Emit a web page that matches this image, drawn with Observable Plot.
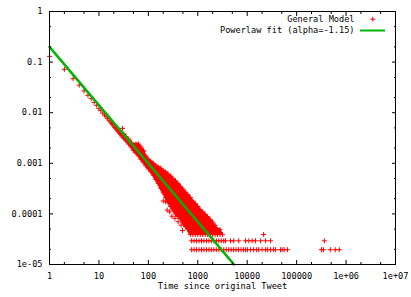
<!DOCTYPE html>
<html><head><meta charset="utf-8">
<script src="https://cdn.jsdelivr.net/npm/d3@7"></script>
<script src="https://cdn.jsdelivr.net/npm/@observablehq/plot@0.6"></script>
<style>
html,body{margin:0;padding:0;background:#fff;}
</style></head><body><div id="chart"></div>
<script>
// ---- data ----
const seriesNames = ["General Model", "Powerlaw fit (alpha=-1.15)"];
const xLabel = "Time since original Tweet";

// single points at small times
const lowX = [1,2,3,4,5,6,7,8,9,10,11,12,13,14,15,16,17,18,19,20,21,22,23,24,25,26,27,28,29,30,31];
const lowY = [0.13,0.072,0.047,0.035,0.027,0.022,0.019,0.016,0.014,0.012,0.011,0.0098,0.0090,0.0083,0.0077,0.0071,0.0066,0.0062,0.0058,0.0055,0.0051,0.0049,0.0046,0.0044,0.0042,0.0040,0.0038,0.0037,0.0035,0.0049,0.0033];

// dense cloud: [time, [values...]]
const cloudCols = [
  [32, [0.0031, 0.0035, 0.0038]],
  [35, [0.0028, 0.0031, 0.0034]],
  [40, [0.0024, 0.0027, 0.0030]],
  [45, [0.0021, 0.0024, 0.0026]],
  [50, [0.0018, 0.0021, 0.0023]],
  [56, [0.0016, 0.0018, 0.0021, 0.0024]],
  [63, [0.0014, 0.0016, 0.0019, 0.0022, 0.0024]],
  [71, [0.0012, 0.0014, 0.0016, 0.0019, 0.0021]],
  [79, [0.00105, 0.0012, 0.0014, 0.0017, 0.0018]],
  [89, [0.00090, 0.00104, 0.0012, 0.0014]],
  [100, [0.00078, 0.00090, 0.00104, 0.0012]],
  [112, [0.00068, 0.00078, 0.00090, 0.00104, 0.0011]],
  [126, [0.00058, 0.00068, 0.00078, 0.00090, 0.0010]],
  [141, [0.00048, 0.00057, 0.00066, 0.00077, 0.00091]],
  [158, [0.00040, 0.00048, 0.00056, 0.00066, 0.00077, 0.00085]],
  [178, [0.00032, 0.00038, 0.00045, 0.00053, 0.00063, 0.00073, 0.00080]],
  [200, [0.00026, 0.00032, 0.00038, 0.00045, 0.00053, 0.00063, 0.00072]],
  [224, [0.00021, 0.00026, 0.00032, 0.00038, 0.00045, 0.00053, 0.00062, 0.00068]],
  [251, [0.00017, 0.00021, 0.00026, 0.00031, 0.00037, 0.00044, 0.00052, 0.00061]],
  [282, [0.00014, 0.00017, 0.00021, 0.00026, 0.00031, 0.00037, 0.00044, 0.00052, 0.00056]],
  [316, [0.00012, 0.00014, 0.00017, 0.00021, 0.00026, 0.00031, 0.00037, 0.00044, 0.00050]],
  [355, [0.00010, 0.00012, 0.00015, 0.00018, 0.00022, 0.00027, 0.00032, 0.00039, 0.00045]],
  [398, [0.000089, 0.00011, 0.00013, 0.00016, 0.00019, 0.00023, 0.00028, 0.00034, 0.00040]],
  [447, [0.000079, 0.000095, 0.00012, 0.00014, 0.00017, 0.00020, 0.00025, 0.00030, 0.00035]],
  [501, [0.000066, 0.000079, 0.000095, 0.00012, 0.00014, 0.00017, 0.00021, 0.00026, 0.00031]],
  [562, [0.000056, 0.000068, 0.000083, 0.00010, 0.00012, 0.00015, 0.00018, 0.00022, 0.00027]],
  [631, [0.000049, 0.000059, 0.000069, 0.000085, 0.00010, 0.00012, 0.00015, 0.00019, 0.00024]],
  [708, [0.000039, 0.000049, 0.000059, 0.000069, 0.000085, 0.00010, 0.00012, 0.00015, 0.00018, 0.00021]],
  [794, [0.000039, 0.000049, 0.000059, 0.000069, 0.000078, 0.000088, 0.00011, 0.00013, 0.00016, 0.00018]],
  [891, [0.000039, 0.000049, 0.000059, 0.000069, 0.000078, 0.000088, 0.00011, 0.00013, 0.00016]],
  [1000, [0.000039, 0.000049, 0.000059, 0.000069, 0.000078, 0.000088, 0.00011, 0.00013, 0.00014]],
  [1122, [0.000039, 0.000049, 0.000059, 0.000069, 0.000078, 0.000088, 0.000098, 0.00012]],
  [1259, [0.000039, 0.000049, 0.000059, 0.000069, 0.000078, 0.000088, 0.000098, 0.00011]],
  [1413, [0.000039, 0.000049, 0.000059, 0.000069, 0.000078, 0.000088, 0.000098]],
  [1585, [0.000039, 0.000049, 0.000059, 0.000069, 0.000078, 0.000088]],
  [1778, [0.000039, 0.000049, 0.000059, 0.000069, 0.000078]],
  [1995, [0.000039, 0.000049, 0.000059, 0.000069]],
  [2239, [0.000039, 0.000049, 0.000059]],
  [2512, [0.000039, 0.000049]],
  [2818, [0.000039, 0.000049]],
  [3162, [0.000039]]
];

// sparse faint points below the cloud
const outlierX = [200, 224, 240, 270, 300, 345, 400, 460, 490];
const outlierY = [0.00018, 0.000174, 0.000119, 0.00011, 0.00009, 0.000082, 0.00007, 0.00006, 0.000047];

// discrete low-count rows
const row2Y = 0.0000196;
const row2X = [750, 840, 940, 1060, 1190, 1330, 1500, 1680, 1880, 2110, 2370, 2660, 2980, 3350, 3760, 4220, 4730, 5310, 5960, 6680, 7500, 8400, 9250, 10100, 11700, 13500, 15500, 17000, 20000, 23600, 25900, 29700, 34100, 37500, 47100, 51000, 56000, 65200, 317000, 348000, 480000, 605000, 730000];
const row3Y = 0.0000294;
const row3X = [750, 840, 940, 1060, 1190, 1330, 1500, 1680, 1880, 2110, 2370, 2660, 2980, 3350, 3640, 4590, 5350, 6730, 9250, 10800, 12600, 14700, 18700, 23600, 29700, 364000];
const row4Y = 0.0000392;
const row4X = [21500];

// power-law fit line end points
const fitX = [1, 5400];
const fitY = [0.2, 0.00001];

const xTicks = [1, 10, 100, 1000, 10000, 100000, 1e6, 1e7];
const xTickLabels = ["1", "10", "100", "1000", "10000", "100000", "1e+06", "1e+07"];
const yTicks = [1, 0.1, 0.01, 0.001, 0.0001, 0.00001];
const yTickLabels = ["1", "0.1", "0.01", "0.001", "0.0001", "1e-05"];

// ---- build tables ----
const points = [];
lowX.forEach((x, i) => points.push({x, y: lowY[i]}));
cloudCols.forEach(([x, ys]) => ys.forEach(y => points.push({x, y})));
outlierX.forEach((x, i) => points.push({x, y: outlierY[i]}));
row2X.forEach(x => points.push({x, y: row2Y}));
row3X.forEach(x => points.push({x, y: row3Y}));
row4X.forEach(x => points.push({x, y: row4Y}));
const cloudEnv = cloudCols.map(([x, ys]) => ({x, lo: d3.min(ys), hi: d3.max(ys)}));
const fit = fitX.map((x, i) => ({x, y: fitY[i]}));

const minorX = [];
for (let e = 0; e < 7; e++) { minorX.push(2 * 10 ** e, 5 * 10 ** e); }
const minorY = [];
for (let e = -5; e < 0; e++) { minorY.push(2 * 10 ** e, 5 * 10 ** e); }

const plusSym = {draw(ctx) { const r = 2.5; ctx.moveTo(-r, 0); ctx.lineTo(r, 0); ctx.moveTo(0, -r); ctx.lineTo(0, r); }};
const lineSym = {draw(ctx) { ctx.moveTo(-12.5, 0); ctx.lineTo(12.5, 0); }};

const RED = "#ff0000", GREEN = "#00b400";
const FONT = 8.6;

const chart = Plot.plot({
  width: 411, height: 297,
  marginLeft: 49, marginRight: 16, marginTop: 11, marginBottom: 33,
  style: {fontFamily: "'DejaVu Sans Mono', monospace", fontSize: FONT + "px", background: "#fff", color: "#000"},
  x: {type: "log", domain: [1, 1e7], label: null},
  y: {type: "log", domain: [0.00001, 1], label: null},
  marks: [
    Plot.areaY(cloudEnv, {x: "x", y1: "lo", y2: "hi", fill: RED, stroke: RED, strokeWidth: 2}),
    Plot.dot(points, {x: "x", y: "y", symbol: plusSym, r: 3, stroke: RED, fill: "none", strokeWidth: 1}),
    Plot.line(fit, {x: "x", y: "y", stroke: GREEN, strokeWidth: 2.5}),
    Plot.frame({stroke: "#000", strokeWidth: 1}),
    // labels
    Plot.axisX(xTicks, {anchor: "bottom", tickSize: 0, tickPadding: 8, label: null, fontSize: FONT, tickFormat: d => xTickLabels[xTicks.indexOf(d)]}),
    Plot.axisY(yTicks, {anchor: "left", tickSize: 0, tickPadding: 7, label: null, fontSize: FONT, tickFormat: d => yTickLabels[yTicks.indexOf(d)]}),
    // inward ticks, mirrored
    Plot.axisX(xTicks, {anchor: "bottom", tickSize: -4, fill: "none", label: null}),
    Plot.axisX(xTicks, {anchor: "top", tickSize: -4, fill: "none", label: null}),
    Plot.axisX(minorX, {anchor: "bottom", tickSize: -2, fill: "none", label: null}),
    Plot.axisX(minorX, {anchor: "top", tickSize: -2, fill: "none", label: null}),
    Plot.axisY(yTicks, {anchor: "left", tickSize: -4, fill: "none", label: null}),
    Plot.axisY(yTicks, {anchor: "right", tickSize: -4, fill: "none", label: null}),
    Plot.axisY(minorY, {anchor: "left", tickSize: -2, fill: "none", label: null}),
    Plot.axisY(minorY, {anchor: "right", tickSize: -2, fill: "none", label: null}),
    // x label
    Plot.text([xLabel], {text: d => d, frameAnchor: "bottom", dy: 21.5, lineAnchor: "middle", fill: "#000"}),
    // legend
    Plot.text([seriesNames[0]], {text: d => d, frameAnchor: "top-right", dx: -41, dy: 7.7, textAnchor: "end", lineAnchor: "middle", fill: "#000"}),
    Plot.text([seriesNames[1]], {text: d => d, frameAnchor: "top-right", dx: -41, dy: 19, textAnchor: "end", lineAnchor: "middle", fill: "#000"}),
    Plot.dot([seriesNames[0]], {frameAnchor: "top-right", dx: -22.7, dy: 7.7, symbol: plusSym, r: 3, stroke: RED, fill: "none", strokeWidth: 1}),
    Plot.dot([seriesNames[1]], {frameAnchor: "top-right", dx: -23, dy: 19, symbol: lineSym, r: 3, stroke: GREEN, fill: "none", strokeWidth: 2})
  ]
});
document.getElementById("chart").appendChild(chart);
</script>
</body></html>
